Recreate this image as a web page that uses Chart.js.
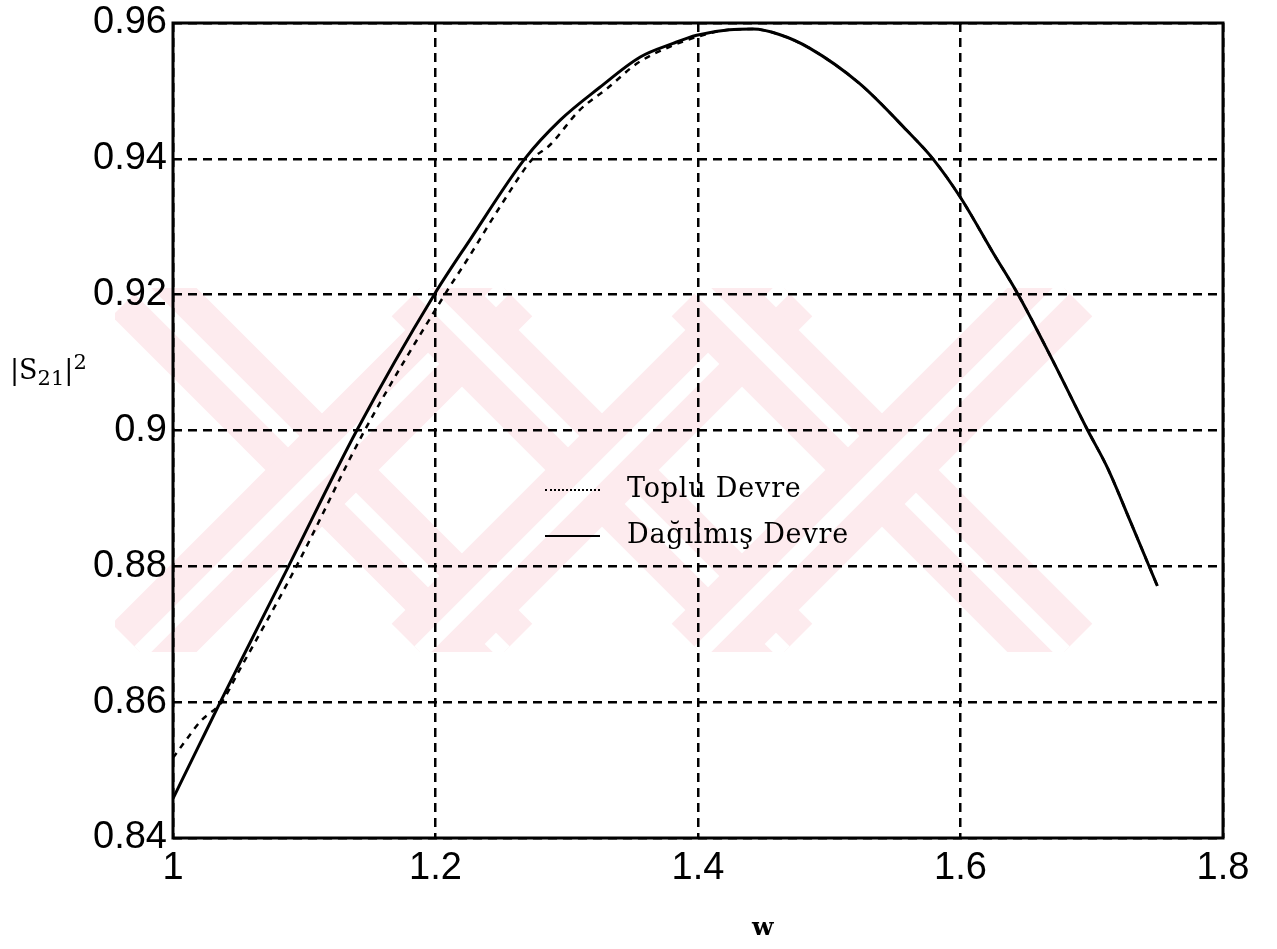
<!DOCTYPE html>
<html>
<head>
<meta charset="utf-8">
<script src="https://cdn.jsdelivr.net/npm/chart.js@4/dist/chart.umd.min.js"></script>
<style>
  html, body { margin: 0; padding: 0; background: #fff; }
  #wrap { position: relative; width: 1277px; height: 949px; }
  .serif { font-family: "DejaVu Serif", "Liberation Serif", serif; color: #000; position: absolute; }
  .leg { position: absolute; left: 545px; font-family: "DejaVu Serif", serif; font-size: 27px; letter-spacing: 0.8px; }
  .leg .smp { position: absolute; left: 0; width: 55px; }
  .leg span { position: absolute; left: 82px; white-space: nowrap; }
</style>
</head>
<body>
<div id="wrap">
  <canvas id="chart" width="1277" height="949"></canvas>
  <div class="leg" style="top:472px">
    <div class="smp" style="top:17px;border-top:2px dotted #000"></div>
    <span style="top:0">Toplu Devre</span>
  </div>
  <div class="leg" style="top:518px">
    <div class="smp" style="top:17px;border-top:2px solid #000"></div>
    <span style="top:0">Dağılmış Devre</span>
  </div>
  <div class="serif" style="left:10px;top:350px;font-size:27px;">|S<sub style="font-size:21px">21</sub>|<sup style="font-size:21px">2</sup></div>
  <div class="serif" style="left:752px;top:912px;font-size:25px;font-weight:bold;">w</div>
</div>
<script>
// |S21|^2 vs w
const wDist = [1.000, 1.020, 1.036, 1.051, 1.088, 1.140, 1.199, 1.226, 1.268, 1.295, 1.325, 1.356, 1.381, 1.399, 1.424, 1.442, 1.462, 1.485, 1.523, 1.559, 1.579, 1.600, 1.625, 1.644, 1.670, 1.697, 1.712, 1.729, 1.750];
const s21Dist = [0.8458, 0.8537, 0.8600, 0.8658, 0.8800, 0.9000, 0.9200, 0.9280, 0.9400, 0.9457, 0.9505, 0.9550, 0.9570, 0.9582, 0.9590, 0.9591, 0.9583, 0.9563, 0.9511, 0.9442, 0.9400, 0.9343, 0.9261, 0.9200, 0.9104, 0.9000, 0.8945, 0.8868, 0.8771];

const wLumped = [1.000, 1.011, 1.021, 1.037, 1.050, 1.094, 1.146, 1.207, 1.224, 1.251, 1.274, 1.287, 1.310, 1.331, 1.354, 1.381, 1.400, 1.424, 1.442, 1.462, 1.485, 1.523, 1.559, 1.579, 1.600, 1.625, 1.644, 1.670, 1.697, 1.712, 1.729, 1.750];
const s21Lumped = [0.8518, 0.8547, 0.8572, 0.8600, 0.8645, 0.8800, 0.9000, 0.9200, 0.9251, 0.9335, 0.9400, 0.9420, 0.9472, 0.9504, 0.9541, 0.9567, 0.9580, 0.9590, 0.9591, 0.9583, 0.9563, 0.9511, 0.9442, 0.9400, 0.9343, 0.9261, 0.9200, 0.9104, 0.9000, 0.8945, 0.8868, 0.8771];

const xTicks = [1, 1.2, 1.4, 1.6, 1.8];
const yTicks = [0.84, 0.86, 0.88, 0.9, 0.92, 0.94, 0.96];

const toPts = (xs, ys) => xs.map((x, i) => ({ x, y: ys[i] }));

// white page, faint pink watermark, and the box round the plot
const background = {
  id: 'background',
  beforeDraw(chart) {
    const c = chart.ctx;
    c.save();
    c.fillStyle = '#fff';
    c.fillRect(0, 0, chart.width, chart.height);
    c.beginPath();
    c.rect(115, 288, 985, 364);
    c.clip();
    c.lineCap = 'butt';
    [330, 610, 890].forEach(cx => {
      [[cx - 190, 288, cx + 174, 652], [cx - 190, 652, cx + 174, 288]].forEach(([x1, y1, x2, y2]) => {
        c.strokeStyle = '#fdebee';
        c.lineWidth = 80;
        c.beginPath(); c.moveTo(x1, y1); c.lineTo(x2, y2); c.stroke();
        c.strokeStyle = '#fff';
        c.lineWidth = 16;
        c.beginPath(); c.moveTo(x1, y1); c.lineTo(x2, y2); c.stroke();
      });
    });
    c.restore();
  },
  afterDraw(chart) {
    const a = chart.chartArea, c = chart.ctx;
    c.save();
    c.strokeStyle = '#000';
    c.lineWidth = 3;
    c.strokeRect(a.left, a.top, a.right - a.left, a.bottom - a.top);
    c.restore();
  }
};

const tickFont = { family: '"Liberation Sans", Arial, sans-serif', size: 38 };

new Chart(document.getElementById('chart'), {
  type: 'line',
  data: {
    datasets: [
      { label: 'Toplu Devre', data: toPts(wLumped, s21Lumped), borderColor: '#000', borderWidth: 2.5, borderDash: [6, 6], pointRadius: 0, cubicInterpolationMode: 'monotone', fill: false },
      { label: 'Dağılmış Devre', data: toPts(wDist, s21Dist), borderColor: '#000', borderWidth: 3, pointRadius: 0, cubicInterpolationMode: 'monotone', fill: false }
    ]
  },
  options: {
    responsive: false,
    animation: false,
    layout: { padding: { top: 23, right: 54, left: 0, bottom: 0 } },
    plugins: { legend: { display: false }, tooltip: { enabled: false } },
    scales: {
      x: {
        type: 'linear', min: 1, max: 1.8,
        afterBuildTicks: s => { s.ticks = xTicks.map(v => ({ value: v })); },
        afterFit: s => { s.height = 111; },
        border: { display: false, dash: [9, 6] },
        grid: { color: '#000', lineWidth: 2.5, drawTicks: false },
        ticks: { color: '#000', font: tickFont, padding: 8, maxRotation: 0, callback: v => String(+v.toFixed(2)) }
      },
      y: {
        type: 'linear', min: 0.84, max: 0.96,
        afterBuildTicks: s => { s.ticks = yTicks.map(v => ({ value: v })); },
        afterFit: s => { s.width = 173; s.paddingTop = 0; s.paddingBottom = 0; },
        border: { display: false, dash: [9, 6] },
        grid: { color: '#000', lineWidth: 2.5, drawTicks: false },
        ticks: { color: '#000', font: tickFont, padding: 6, callback: v => String(+v.toFixed(2)) }
      }
    }
  },
  plugins: [background]
});
</script>
</body>
</html>
